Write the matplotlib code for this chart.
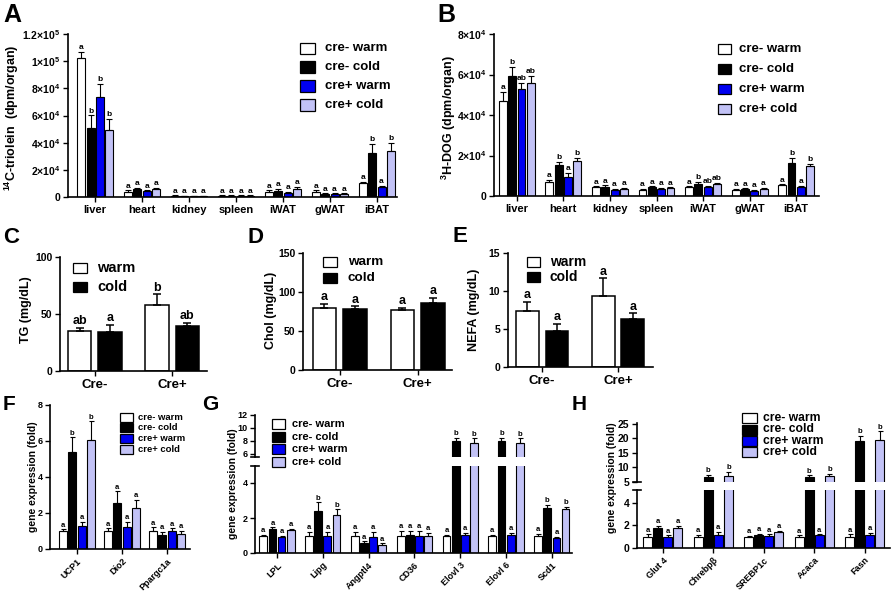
import matplotlib
matplotlib.use('Agg')
import matplotlib.pyplot as plt
import numpy as np
from matplotlib.patches import Rectangle
from matplotlib.lines import Line2D

plt.rcParams['font.family'] = ['Liberation Sans', 'DejaVu Sans']
plt.rcParams['font.weight'] = 'bold'
plt.rcParams['axes.labelweight'] = 'bold'
plt.rcParams['mathtext.fontset'] = 'custom'
plt.rcParams['mathtext.rm'] = 'Liberation Sans:bold'
plt.rcParams['mathtext.bf'] = 'Liberation Sans:bold'
plt.rcParams['mathtext.it'] = 'Liberation Sans:bold'

# ---------------- data ----------------
groups4 = ['cre- warm', 'cre- cold', 'cre+ warm', 'cre+ cold']
colors4 = ['white', 'black', '#0000F0', '#C2C2F6']
groups2 = ['warm', 'cold']
colors2 = ['white', 'black']

organs = ['liver', 'heart', 'kidney', 'spleen', 'iWAT', 'gWAT', 'iBAT']
# A: 14C-triolein (dpm/organ); rows = groups4
a_mean = [[102000, 4000, 1000, 1000, 4000, 3800, 10000],
          [50600, 5600, 800, 900, 4600, 2200, 32500],
          [73300, 4200, 800, 1000, 3100, 2200, 7000],
          [49300, 5800, 800, 900, 5800, 2300, 33500]]
a_err = [[5000, 800, 300, 300, 800, 1000, 1000],
         [9500, 1000, 300, 300, 1200, 500, 6500],
         [10000, 800, 300, 300, 500, 400, 1000],
         [8000, 1000, 300, 300, 1500, 300, 6500]]
a_sig = [['a', 'a', 'a', 'a', 'a', 'a', 'a'],
         ['b', 'a', 'a', 'a', 'a', 'a', 'b'],
         ['b', 'a', 'a', 'a', 'a', 'a', 'a'],
         ['b', 'a', 'a', 'a', 'a', 'a', 'b']]

# B: 3H-DOG (dpm/organ)
b_mean = [[47100, 7100, 4200, 3000, 4200, 3000, 5200],
          [59300, 15300, 4200, 4200, 6100, 3300, 16200],
          [52900, 9400, 3000, 3400, 4600, 2700, 4500],
          [55600, 17200, 3500, 3800, 5900, 3600, 15000]]
b_err = [[4500, 800, 500, 500, 600, 500, 600],
         [4600, 1500, 1000, 500, 1000, 500, 2500],
         [3000, 2000, 500, 500, 500, 500, 600],
         [3600, 1600, 500, 500, 600, 500, 1000]]
b_sig = [['a', 'a', 'a', 'a', 'a', 'a', 'a'],
         ['b', 'b', 'a', 'a', 'b', 'a', 'b'],
         ['ab', 'a', 'a', 'a', 'ab', 'a', 'a'],
         ['ab', 'b', 'a', 'a', 'ab', 'a', 'b']]

genotypes = ['Cre-', 'Cre+']
# C: TG (mg/dL); rows = warm, cold
c_mean = [[35.5, 57.5], [34.5, 39.5]]
c_err = [[2.5, 10.0], [6.0, 3.0]]
c_sig = [['ab', 'b'], ['a', 'ab']]
# D: Chol (mg/dL)
d_mean = [[80, 77], [78, 85.5]]
d_err = [[5, 3], [4, 7]]
d_sig = [['a', 'a'], ['a', 'a']]
# E: NEFA (mg/dL)
e_mean = [[7.4, 9.4], [4.8, 6.3]]
e_err = [[1.2, 2.3], [0.9, 0.8]]
e_sig = [['a', 'a'], ['a', 'a']]

# F
f_genes = ['UCP1', 'Dio2', 'Ppargc1a']
f_mean = [[1.0, 1.0, 1.0], [5.4, 2.55, 0.8], [1.3, 1.25, 1.0], [6.05, 2.3, 0.85]]
f_err = [[0.1, 0.15, 0.2], [0.8, 0.65, 0.15], [0.2, 0.25, 0.15], [1.05, 0.45, 0.15]]
f_sig = [['a', 'a', 'a'], ['b', 'a', 'a'], ['a', 'a', 'a'], ['b', 'a', 'a']]

# G
g_genes = ['LPL', 'Lipg', 'Angptl4', 'CD36', 'Elovl 3', 'Elovl 6', 'Scd1']
g_mean = [[1.0, 1.0, 1.0, 1.0, 1.0, 1.0, 1.0],
          [1.35, 2.4, 0.55, 1.05, 8.0, 8.0, 2.6],
          [0.92, 1.0, 0.92, 0.95, 1.05, 1.05, 0.85],
          [1.3, 2.2, 0.45, 0.95, 7.6, 7.6, 2.5]]
g_err = [[0.05, 0.2, 0.2, 0.25, 0.05, 0.05, 0.08],
         [0.12, 0.5, 0.12, 0.2, 0.45, 0.45, 0.15],
         [0.06, 0.2, 0.3, 0.3, 0.1, 0.1, 0.06],
         [0.08, 0.3, 0.1, 0.2, 0.8, 0.8, 0.15]]
g_sig = [['a', 'a', 'a', 'a', 'a', 'a', 'a'],
         ['a', 'b', 'a', 'a', 'b', 'b', 'b'],
         ['a', 'a', 'a', 'a', 'a', 'a', 'a'],
         ['a', 'b', 'a', 'a', 'b', 'b', 'b']]

# H
h_genes = ['Glut 4', 'Chrebp\u03b2', 'SREBP1c', 'Acaca', 'Fasn']
h_mean = [[1.0, 1.0, 1.0, 1.0, 1.0],
          [1.75, 6.7, 1.15, 6.7, 19.0],
          [0.95, 1.15, 1.05, 1.1, 1.15],
          [1.75, 7.1, 1.4, 6.9, 19.6]]
h_err = [[0.2, 0.15, 0.05, 0.1, 0.2],
         [0.2, 0.8, 0.08, 0.6, 1.9],
         [0.15, 0.3, 0.15, 0.1, 0.2],
         [0.2, 1.3, 0.1, 0.8, 2.9]]
h_sig = [['a', 'a', 'a', 'a', 'a'],
         ['a', 'b', 'a', 'b', 'b'],
         ['a', 'a', 'a', 'a', 'a'],
         ['a', 'b', 'a', 'b', 'b']]

# ---------------- figure ----------------
W, H = 892, 596
fig = plt.figure(figsize=(W / 100, H / 100), dpi=100)


def rect(l, t, r, b):
    return [l / W, 1 - b / H, (r - l) / W, (b - t) / H]


def P(x, y):
    return (x / W, 1 - y / H)


def style(ax, spine_lw=1.2, tick_fs=7, bottom=True):
    for s in ['top', 'right']:
        ax.spines[s].set_visible(False)
    ax.spines['left'].set_linewidth(spine_lw)
    ax.spines['bottom'].set_linewidth(spine_lw)
    if not bottom:
        ax.spines['bottom'].set_visible(False)
        ax.set_xticks([])
    ax.tick_params(direction='out', length=3.5, width=1.0, labelsize=tick_fs, pad=2)
    for lab in ax.get_yticklabels() + ax.get_xticklabels():
        lab.set_fontweight('bold')


def grouped(ax, cats, means, errs, sigs, colors, width=0.17, step=0.2,
            capsize=1.8, sigsize=5.5, lw=0.8, sig_dy=0.5):
    x = np.arange(len(cats))
    n = len(means)
    for i in range(n):
        xi = x + (i - (n - 1) / 2) * step
        ax.bar(xi, means[i], width, color=colors[i], edgecolor='black',
               linewidth=lw, zorder=2)
        ax.errorbar(xi, means[i], yerr=[np.zeros(len(cats)), errs[i]], fmt='none',
                    ecolor='black', elinewidth=lw, capsize=capsize, capthick=lw, zorder=3)
        for xx, m, e, s in zip(xi, means[i], errs[i], sigs[i]):
            ax.annotate(s, (xx, m + e), xytext=(0, sig_dy), textcoords='offset points',
                        ha='center', va='bottom', fontsize=sigsize, fontweight='bold')
    return x


def legend(x0, bw, bh, tx, ys, labels, colors, fs):
    for yc, lab, c in zip(ys, labels, colors):
        fig.add_artist(Rectangle(P(x0, yc + bh / 2), bw / W, bh / H,
                                 transform=fig.transFigure, facecolor=c,
                                 edgecolor='black', lw=0.9))
        fig.text(*P(tx, yc), lab, fontsize=fs, va='center', ha='left', fontweight='bold')


def letter(x, y, s, fs):
    fig.text(*P(x, y), s, fontsize=fs, fontweight='bold', va='baseline', ha='left')


def ylab(x, y, s, fs):
    fig.text(*P(x, y), s, fontsize=fs, fontweight='bold', rotation=90,
             va='center', ha='center')


def sci(v):
    if v == 0:
        return '0'
    e = int(np.floor(np.log10(v)))
    m = v / 10 ** e
    ms = ('%g' % m)
    return r'$\mathbf{%s{\times}10^{%d}}$' % (ms, e)


def break_marks(ax_low, ax_up, half=4):
    # small horizontal caps at the ends of the broken left spine
    for ax, yy in [(ax_low, 1.0), (ax_up, 0.0)]:
        pos = ax.get_position()
        yfig = pos.y0 + yy * pos.height
        xf = pos.x0
        fig.add_artist(Line2D([xf - half / W, xf + half / W], [yfig, yfig],
                              transform=fig.transFigure, color='black', lw=1.2))


# ---- A ----
axA = fig.add_axes(rect(68, 34, 397, 197))
grouped(axA, organs, a_mean, a_err, a_sig, colors4, sigsize=6, capsize=2)
axA.set_xlim(-0.58, 6.43)
axA.set_ylim(0, 120000)
axA.set_yticks([0, 20000, 40000, 60000, 80000, 100000, 120000])
axA.set_yticklabels(['0', sci(2e4), sci(4e4), sci(6e4), sci(8e4), sci(1e5), sci(1.2e5)])
axA.set_xticks(range(len(organs)))
axA.set_xticklabels(organs)
style(axA, tick_fs=7.5)
axA.tick_params(axis='x', labelsize=8)
legend(300, 15, 11, 325, [48, 67, 86, 105], groups4, colors4, 9.5)
ylab(12, 118, r'$\mathbf{^{14}}$C-triolein  (dpm/organ)', 9)
letter(3, 22, 'A', 18)

# ---- B ----
axB = fig.add_axes(rect(494, 34, 819, 196))
grouped(axB, organs, b_mean, b_err, b_sig, colors4, sigsize=6, capsize=2)
axB.set_xlim(-0.49, 6.49)
axB.set_ylim(0, 80000)
axB.set_yticks([0, 20000, 40000, 60000, 80000])
axB.set_yticklabels(['0', sci(2e4), sci(4e4), sci(6e4), sci(8e4)])
axB.set_xticks(range(len(organs)))
axB.set_xticklabels(organs)
style(axB, tick_fs=7.5)
axB.tick_params(axis='x', labelsize=8)
legend(718, 13, 10, 739, [49, 69, 89, 109], groups4, colors4, 9.5)
ylab(449, 118, r'$\mathbf{^{3}}$H-DOG (dpm/organ)', 9)
letter(437, 22, 'B', 18)

# ---- C, D, E ----
def two_group(rc, mean, err, sig, ylim, yticks, xlim):
    ax = fig.add_axes(rc)
    grouped(ax, genotypes, mean, err, sig, colors2, width=0.3, step=0.39,
            capsize=3.2, sigsize=9, lw=1.1, sig_dy=0.3)
    ax.set_xlim(*xlim)
    ax.set_ylim(*ylim)
    ax.set_yticks(yticks)
    ax.set_xticks(range(2))
    ax.set_xticklabels(genotypes)
    style(ax, tick_fs=7.5)
    ax.tick_params(axis='x', labelsize=9.5)
    return ax

axC = two_group(rect(60, 257, 207, 371), c_mean, c_err, c_sig, (0, 100), [0, 50, 100], (-0.45, 1.45))
legend(73, 14, 10, 97, [268, 287], groups2, colors2, 10.5)
ylab(26, 310, 'TG (mg/dL)', 9)
letter(3, 243, 'C', 16)

axD = two_group(rect(303, 253, 452, 370), d_mean, d_err, d_sig, (0, 150), [0, 50, 100, 150], (-0.47, 1.44))
legend(323, 14, 10, 348, [262, 278], groups2, colors2, 9.7)
ylab(271, 310, 'Chol (mg/dL)', 9)
letter(247, 243, 'D', 16)

axE = two_group(rect(508, 253, 653, 367), e_mean, e_err, e_sig, (0, 15), [0, 5, 10, 15], (-0.45, 1.46))
legend(527, 13, 10, 550, [262, 277], groups2, colors2, 10)
ylab(474, 310, 'NEFA (mg/dL)', 9)
letter(452, 242, 'E', 16)

# ---- F ----
axF = fig.add_axes(rect(50, 405, 190, 549))
grouped(axF, f_genes, f_mean, f_err, f_sig, colors4, step=0.21, width=0.18, sigsize=5.5)
axF.set_xlim(-0.6, 2.51)
axF.set_ylim(0, 8)
axF.set_yticks([0, 2, 4, 6, 8])
axF.set_xticks(range(3))
axF.set_xticklabels(f_genes, rotation=45, ha='right', rotation_mode='anchor')
style(axF, tick_fs=6.5)
legend(120, 13, 9, 138, [417, 427.7, 438.3, 449], groups4, colors4, 6.8)
ylab(33, 477, 'gene expression (fold)', 7.5)
letter(3, 410, 'F', 15)

# ---- G (broken axis) ----
axGu = fig.add_axes(rect(255, 415, 572, 457))
axGl = fig.add_axes(rect(255, 465.5, 572, 553))
for ax in (axGu, axGl):
    grouped(ax, g_genes, g_mean, g_err, g_sig, colors4, step=0.2, width=0.17, sigsize=5.5)
    ax.set_xlim(-0.48, 6.44)
axGu.set_ylim(5.5, 12)
axGu.set_yticks([6, 8, 10, 12])
axGl.set_ylim(0, 5)
axGl.set_yticks([0, 2, 4])
axGl.set_xticks(range(len(g_genes)))
axGl.set_xticklabels(g_genes, rotation=45, ha='right', rotation_mode='anchor')
style(axGu, tick_fs=6.5, bottom=False)
style(axGl, tick_fs=6.5)
break_marks(axGl, axGu)
legend(272, 13, 10, 292, [424, 437, 449, 462], groups4, colors4, 8)
ylab(233, 484, 'gene expression (fold)', 7.5)
letter(202, 410, 'G', 15)

# ---- H (broken axis) ----
axHu = fig.add_axes(rect(637, 422.5, 890, 482))
axHl = fig.add_axes(rect(637, 490, 890, 548))
for ax in (axHu, axHl):
    grouped(ax, h_genes, h_mean, h_err, h_sig, colors4, step=0.2, width=0.18, sigsize=5.5)
    ax.set_xlim(-0.51, 4.5)
axHu.set_ylim(5, 25.5)
axHu.set_yticks([5, 10, 15, 20, 25])
axHl.set_ylim(0, 5.1)
axHl.set_yticks([0, 2, 4])
axHl.set_xticks(range(len(h_genes)))
axHl.set_xticklabels(h_genes, rotation=45, ha='right', rotation_mode='anchor')
style(axHu, tick_fs=7.5, bottom=False)
style(axHl, tick_fs=7.5)
axHl.tick_params(axis='x', labelsize=6.5)
break_marks(axHl, axHu)
legend(742, 15, 10, 763, [418, 429.5, 441, 452], groups4, colors4, 8.7)
ylab(612, 478, 'gene expression (fold)', 7.5)
letter(572, 410, 'H', 15)

fig.savefig('out.png', dpi=100)
